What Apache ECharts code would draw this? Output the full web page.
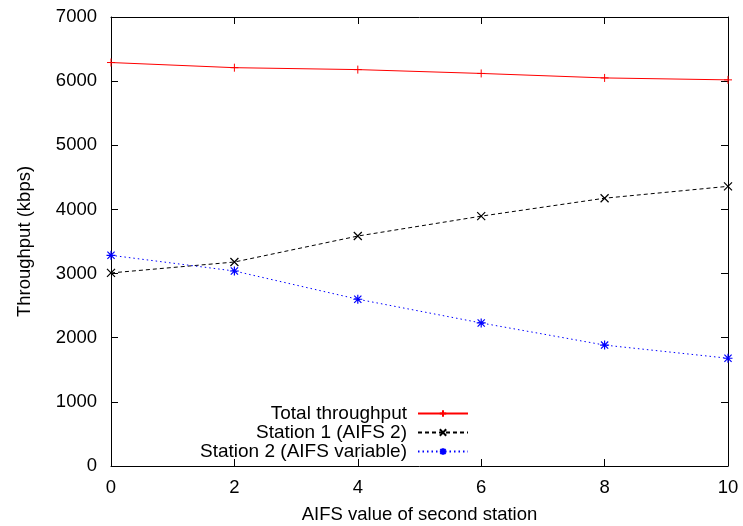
<!DOCTYPE html>
<html>
<head>
<meta charset="utf-8">
<script src="https://cdn.jsdelivr.net/npm/echarts@6/dist/echarts.min.js"></script>
<style>html,body{margin:0;padding:0;background:#fff}#c{width:743px;height:526px}</style>
</head>
<body>
<div id="c"></div>
<script>
const aifs = [0, 2, 4, 6, 8, 10];
const total = [6290, 6210, 6180, 6120, 6050, 6020];
const station1 = [3010, 3180, 3585, 3895, 4175, 4360];
const station2 = [3285, 3040, 2600, 2230, 1885, 1680];
const names = ['Total throughput', 'Station 1 (AIFS 2)', 'Station 2 (AIFS variable)'];

const FONT = 'Liberation Sans, Arial, sans-serif';
const plus = 'path://M0,-1L0,1M-1,0L1,0';
const cross = 'path://M-1,-1L1,1M-1,1L1,-1';
const star = 'path://M0,-1L0,1M-1,0L1,0M-0.8,-0.8L0.8,0.8M-0.8,0.8L0.8,-0.8';

function pairs(v){ return aifs.map((x,i)=>[x,v[i]]); }

const chart = echarts.init(document.getElementById('c'), null, {renderer:'canvas'});
const axisCommon = {
  axisLine:{show:true, onZero:false, lineStyle:{color:'#000', width:1}},
  axisTick:{show:true, inside:true, length:7, lineStyle:{color:'#000'}},
  splitLine:{show:false}
};
chart.setOption({
  animation:false,
  backgroundColor:'#fff',
  textStyle:{fontFamily:FONT},
  grid:{left:111, right:15, top:17, bottom:60, containLabel:false, outerBoundsMode:'none'},
  legend:{
    orient:'vertical', right:269, top:399, align:'right',
    itemWidth:50, itemHeight:8, itemGap:0,
    textStyle:{fontSize:19, lineHeight:19, color:'#000', fontFamily:FONT, padding:[0,6,0,0]},
    data:names
  },
  xAxis:[
    Object.assign({type:'value', min:0, max:10, interval:2,
      name:'AIFS value of second station', nameLocation:'middle', nameGap:39,
      nameTextStyle:{fontSize:18.5, color:'#000', fontFamily:FONT},
      axisLabel:{fontSize:18.5, color:'#000', margin:12, fontFamily:FONT}}, axisCommon),
    Object.assign({type:'value', min:0, max:10, interval:2, position:'top',
      axisLabel:{show:false}}, axisCommon)
  ],
  yAxis:[
    Object.assign({type:'value', min:0, max:7000, interval:1000,
      name:'Throughput (kbps)', nameLocation:'middle', nameGap:77,
      nameTextStyle:{fontSize:18.5, color:'#000', fontFamily:FONT},
      axisLabel:{fontSize:18.5, color:'#000', margin:14, fontFamily:FONT,
        formatter:function(v){return String(v);}}}, axisCommon),
    Object.assign({type:'value', min:0, max:7000, interval:1000, position:'right',
      axisLabel:{show:false}}, axisCommon)
  ],
  series:[
    {name:names[0], type:'line', data:pairs(total), symbol:plus, symbolSize:8,
      lineStyle:{color:'#ff0000', width:1, type:'solid'},
      itemStyle:{color:'rgba(0,0,0,0)', borderColor:'#ff0000', borderWidth:1}},
    {name:names[1], type:'line', data:pairs(station1), symbol:cross, symbolSize:8,
      lineStyle:{color:'#000000', width:1, type:[4,3]},
      itemStyle:{color:'rgba(0,0,0,0)', borderColor:'#000000', borderWidth:1.2}},
    {name:names[2], type:'line', data:pairs(station2), symbol:star, symbolSize:9,
      lineStyle:{color:'#0000ff', width:1, type:[1.5,3]},
      itemStyle:{color:'rgba(0,0,0,0)', borderColor:'#0000ff', borderWidth:1.2}}
  ]
});
</script>
</body>
</html>
